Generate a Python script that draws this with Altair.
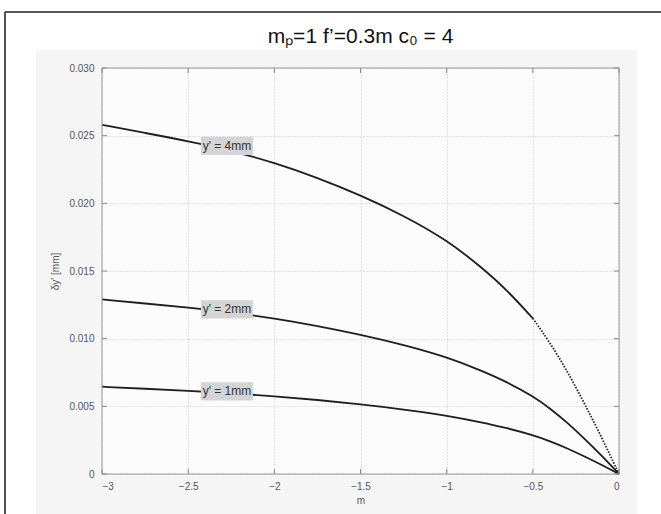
import altair as alt
import pandas as pd

# ---- data ----
m_vals = [-3, -2.75, -2.5, -2.25, -2, -1.75, -1.5, -1.25, -1, -0.8, -0.65,
          -0.5, -0.4, -0.3, -0.2, -0.1, 0]
dy_4mm = [0.0258, 0.0252, 0.0246, 0.0239, 0.0230, 0.0219, 0.0206, 0.0191, 0.0173,
          0.0153, 0.0136, 0.0115, 0.0097, 0.0076, 0.0052, 0.0027, 0.0]
dy_2mm = [0.0129, 0.0126, 0.0123, 0.01195, 0.0115, 0.01095, 0.0103, 0.00955, 0.00865,
          0.00765, 0.0068, 0.00575, 0.00485, 0.0038, 0.0026, 0.00135, 0.0]
dy_1mm = [0.00645, 0.0063, 0.00615, 0.005975, 0.00575, 0.005475, 0.00515, 0.004775,
          0.004325, 0.003825, 0.0034, 0.002875, 0.002425, 0.0019, 0.0013, 0.000675, 0.0]

label_text = ["y' = 4mm", "y' = 2mm", "y' = 1mm"]
label_m = [-2.275, -2.275, -2.275]
label_dy = [0.02424, 0.01216, 0.0061]

x_ticks = [-3, -2.5, -2, -1.5, -1, -0.5, 0]
y_ticks = [0, 0.005, 0.010, 0.015, 0.020, 0.025, 0.030]

title_text = "mₚ=1 f’=0.3m c₀ = 4"

W, H = 517, 406

rows = []
for name, ys in (("4mm", dy_4mm), ("2mm", dy_2mm), ("1mm", dy_1mm)):
    for m, v in zip(m_vals, ys):
        rows.append({"m": m, "dy": v, "series": name})
df = pd.DataFrame(rows)
lab = pd.DataFrame({"m": label_m, "dy": label_dy, "text": label_text})
xt = pd.DataFrame({"m": x_ticks})
yt = pd.DataFrame({"dy": y_ticks})

FONT = "Liberation Sans"
one = pd.DataFrame({"a": [0]})

XS = alt.Scale(domain=[-3, 0], nice=False, zero=False)
YS = alt.Scale(domain=[0, 0.03], nice=False)
XAX = alt.Axis(values=x_ticks, grid=True, gridColor="#c8c8c8", gridDash=[1, 2],
               domain=False, ticks=False, labelFont=FONT, labelFontSize=10,
               labelColor="#555", labelPadding=7, format="~g", titleFont=FONT,
               titleFontSize=10, titleFontWeight="normal", titleColor="#555",
               titlePadding=4)
YAX = alt.Axis(values=y_ticks, grid=True, gridColor="#c8c8c8", gridDash=[1, 2],
               domain=False, ticks=False, labelFont=FONT, labelFontSize=10,
               labelColor="#555", labelPadding=8,
               labelExpr="datum.value == 0 ? '0' : format(datum.value, '.3f')",
               titleFont=FONT, titleFontSize=10, titleFontWeight="normal",
               titleColor="#555", titlePadding=8)


def X():
    return alt.X("m:Q", scale=XS, title="m", axis=XAX)


def Y():
    return alt.Y("dy:Q", scale=YS, title="δy' [mm]", axis=YAX)


# white margins outside the light-gray figure area (chart background is light gray)
white_l = alt.Chart(one).mark_rect(color="white").encode(
    x=alt.value(-102), x2=alt.value(-66), y=alt.value(-68), y2=alt.value(H + 40))
white_r = alt.Chart(one).mark_rect(color="white").encode(
    x=alt.value(535), x2=alt.value(W + 42), y=alt.value(-68), y2=alt.value(H + 40))
white_t = alt.Chart(one).mark_rect(color="white").encode(
    x=alt.value(-102), x2=alt.value(W + 42), y=alt.value(-68), y2=alt.value(-18))

frame_left = alt.Chart(one).mark_rule(color="#222", strokeWidth=1.6).encode(
    x=alt.value(-97), y=alt.value(-56), y2=alt.value(460))
frame_top = alt.Chart(one).mark_rule(color="#222", strokeWidth=1.6).encode(
    x=alt.value(-97), x2=alt.value(W + 60), y=alt.value(-56))

# inward ticks
tick_col = "#888"
xtick_bot = alt.Chart(xt).mark_rule(color=tick_col).encode(
    x=X(), y=alt.value(H), y2=alt.value(H - 5))
xtick_top = alt.Chart(xt).mark_rule(color=tick_col).encode(
    x=X(), y=alt.value(0), y2=alt.value(5))
ytick_l = alt.Chart(yt).mark_rule(color=tick_col).encode(
    y=Y(), x=alt.value(0), x2=alt.value(5))
ytick_r = alt.Chart(yt).mark_rule(color=tick_col).encode(
    y=Y(), x=alt.value(W), x2=alt.value(W - 5))

box = alt.Chart(one).mark_rect(
    fill=None, stroke="#999", strokeWidth=1).encode(
    x=alt.value(0), x2=alt.value(W), y=alt.value(0), y2=alt.value(H))

solid = alt.Chart(df).transform_filter(
    "datum.series != '4mm' || datum.m <= -0.5").mark_line(
    color="#1e1e1e", strokeWidth=1.8, interpolate="basis").encode(
    x=X(), y=Y(), detail="series:N")
dotted = alt.Chart(df).transform_filter(
    "datum.series == '4mm' && datum.m >= -0.5").mark_line(
    color="#1e1e1e", strokeWidth=1.8, strokeDash=[1.5, 1.5], interpolate="basis").encode(
    x=X(), y=Y())

label_box = alt.Chart(lab).mark_point(
    shape="M-1,-0.35L1,-0.35L1,0.35L-1,0.35Z", filled=True, color="#d4d4d4",
    opacity=1, size=2704).encode(x=X(), y=Y())
label_txt = alt.Chart(lab).mark_text(
    font=FONT, fontSize=12, color="#333", align="center", baseline="middle").encode(
    x=X(), y=Y(), text="text:N")

title = alt.Chart(one).mark_text(
    font=FONT, fontSize=21, color="#111", align="center", baseline="alphabetic").encode(
    x=alt.value(W / 2), y=alt.value(-25), text=alt.value(title_text))

chart = alt.layer(
    solid, dotted, white_l, white_r, white_t, frame_left, frame_top, box,
    xtick_bot, xtick_top, ytick_l, ytick_r,
    label_box, label_txt, title,
).properties(
    width=W, height=H,
    autosize=alt.AutoSizeParams(type="none"),
    padding={"left": 102, "top": 68, "right": 42, "bottom": 40},
    background="#f5f5f5",
).configure_view(stroke=None, fill="#fcfcfc")

chart.save("out.html", embed_options={"renderer": "svg", "actions": False})
